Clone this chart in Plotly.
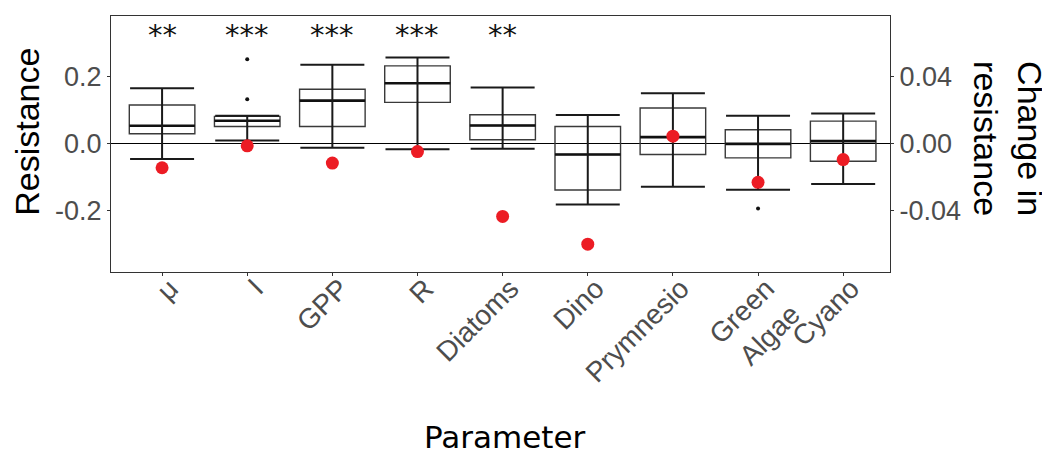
import plotly.graph_objects as go

# ---- data ----
categories = ["μ", "I", "GPP", "R", "Diatoms", "Dino", "Prymnesio", "Green<br>Algae", "Cyano"]
lower_whisker = [-0.045, 0.010, -0.012, -0.016, -0.015, -0.181, -0.128, -0.137, -0.120]
q1 = [0.030, 0.052, 0.052, 0.124, 0.012, -0.138, -0.032, -0.042, -0.052]
median = [0.054, 0.069, 0.129, 0.181, 0.055, -0.032, 0.020, 0.000, 0.008]
q3 = [0.116, 0.082, 0.163, 0.233, 0.087, 0.052, 0.107, 0.042, 0.068]
upper_whisker = [0.166, 0.084, 0.236, 0.258, 0.168, 0.086, 0.151, 0.084, 0.091]
outlier_cat = ["I", "I", "Green<br>Algae"]
outlier_val = [0.253, 0.133, -0.193]
change_in_resistance = [-0.0143, -0.0012, -0.0115, -0.0046, -0.0434, -0.0600, 0.0046, -0.0230, -0.0094]
significance = ["**", "***", "***", "***", "**", "", "", "", ""]

left_ticks = [-0.2, 0.0, 0.2]
left_ticktext = ["-0.2", "0.0", "0.2"]
right_ticks = [-0.04, 0.0, 0.04]
right_ticktext = ["-0.04", "0.00", "0.04"]

YMIN, YMAX = -0.383, 0.382
SCALE = 0.2  # right axis = left axis * SCALE

fig = go.Figure()

# whiskers (errorbar style, running through the box)
mid = [(l + u) / 2 for l, u in zip(lower_whisker, upper_whisker)]
half = [(u - l) / 2 for l, u in zip(lower_whisker, upper_whisker)]
fig.add_trace(go.Scatter(
    x=categories, y=mid, mode="markers",
    marker=dict(size=1, color="rgba(0,0,0,0)"),
    error_y=dict(type="data", symmetric=True, array=half, width=32,
                 thickness=2, color="#1a1a1a"),
    hoverinfo="skip", showlegend=False))

# boxes
fig.add_trace(go.Box(
    x=categories, q1=q1, median=median, q3=q3,
    lowerfence=q1, upperfence=q3,
    width=0.77, fillcolor="rgba(0,0,0,0)",
    line=dict(color="#3a3a3a", width=1.4),
    boxpoints=False, showlegend=False))

# thick medians
fig.add_trace(go.Box(
    x=categories, q1=median, median=median, q3=median,
    lowerfence=median, upperfence=median,
    width=0.77, fillcolor="rgba(0,0,0,0)",
    line=dict(color="#111111", width=2.6),
    boxpoints=False, showlegend=False))

# outliers
fig.add_trace(go.Scatter(
    x=outlier_cat, y=outlier_val, mode="markers",
    marker=dict(size=4, color="#111111"), showlegend=False))

# change in resistance (right axis)
fig.add_trace(go.Scatter(
    x=categories, y=change_in_resistance, mode="markers", yaxis="y2",
    marker=dict(size=13, color="#EC1C24"), showlegend=False))

# significance stars
for c, s in zip(categories, significance):
    if s:
        fig.add_annotation(x=c, y=0.325, xref="x", yref="y", text=s,
                           showarrow=False, yanchor="middle",
                           font=dict(family="DejaVu Sans", size=29, color="#111111"))

axis_common = dict(showline=True, linecolor="#333333", linewidth=1.2,
                   ticks="outside", ticklen=3, tickcolor="#333333",
                   showgrid=False, automargin=False)

# page body has an 8px margin, so the figure is drawn 8px in from the top-left
fig.update_layout(
    width=1042, height=446,
    margin=dict(l=103, r=160, t=8, b=182, autoexpand=False),
    paper_bgcolor="white", plot_bgcolor="white",
    boxmode="overlay",
    xaxis=dict(**axis_common, mirror=True, type="category",
               range=[-0.6, 8.55], tickangle=-45,
               ticklabelstandoff=-15, ticklabelshift=8,
               tickfont=dict(family="Liberation Sans", size=28, color="#4D4D4D")),
    yaxis=dict(**axis_common, mirror=True, range=[YMIN, YMAX],
               tickvals=left_ticks, ticktext=left_ticktext,
               zeroline=True, zerolinecolor="#000000", zerolinewidth=1,
               tickfont=dict(family="Liberation Sans", size=27, color="#4D4D4D")),
    yaxis2=dict(**axis_common, overlaying="y", side="right",
                range=[YMIN * SCALE, YMAX * SCALE],
                tickvals=right_ticks, ticktext=right_ticktext, zeroline=False,
                tickfont=dict(family="Liberation Sans", size=27, color="#4D4D4D")),
)

# axis titles
fig.add_annotation(text="Resistance", xref="paper", yref="paper",
                   x=-0.108, y=0.547, xanchor="center", yanchor="middle",
                   textangle=-90, showarrow=False,
                   font=dict(family="Liberation Sans", size=34, color="#000000"))
fig.add_annotation(text="Change in<br>resistance", xref="paper", yref="paper",
                   x=1.1515, y=0.523, xanchor="center", yanchor="middle",
                   textangle=90, showarrow=False,
                   font=dict(family="Liberation Sans", size=34, color="#000000"))
fig.add_annotation(text="Parameter", xref="paper", yref="paper",
                   x=(505 - 111) / 779, y=-(437 - 272) / 256,
                   xanchor="center", yanchor="middle", showarrow=False,
                   font=dict(family="DejaVu Sans", size=31, color="#000000"))

fig.write_html("out.html")
